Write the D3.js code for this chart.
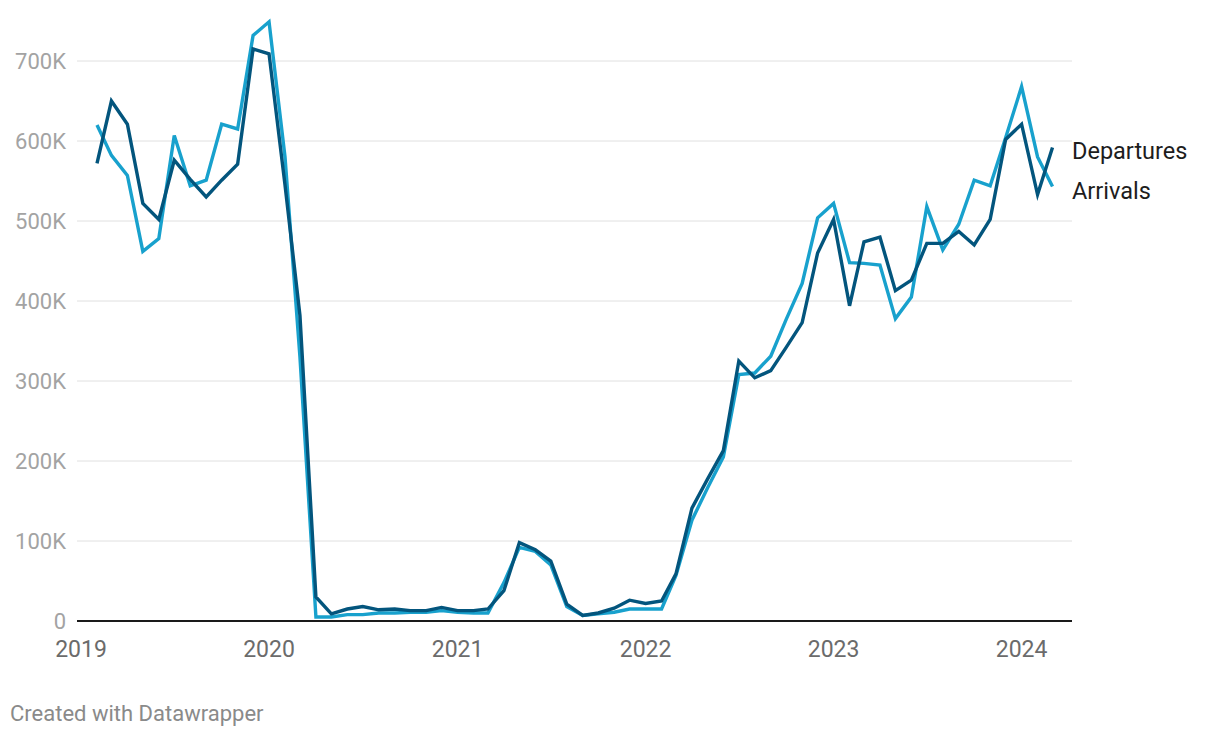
<!DOCTYPE html>
<html>
<head>
<meta charset="utf-8">
<script src="https://cdn.jsdelivr.net/npm/d3@7"></script>
<style>
  html, body { margin: 0; padding: 0; background: #fff; }
  svg { display: block; font-family: Roboto, "Noto Sans", sans-serif; }
</style>
</head>
<body>
<svg id="chart" width="1220" height="738"></svg>
<script>
const months = [
  "2019-02","2019-03","2019-04","2019-05","2019-06","2019-07","2019-08","2019-09","2019-10","2019-11","2019-12",
  "2020-01","2020-02","2020-03","2020-04","2020-05","2020-06","2020-07","2020-08","2020-09","2020-10","2020-11","2020-12",
  "2021-01","2021-02","2021-03","2021-04","2021-05","2021-06","2021-07","2021-08","2021-09","2021-10","2021-11","2021-12",
  "2022-01","2022-02","2022-03","2022-04","2022-05","2022-06","2022-07","2022-08","2022-09","2022-10","2022-11","2022-12",
  "2023-01","2023-02","2023-03","2023-04","2023-05","2023-06","2023-07","2023-08","2023-09","2023-10","2023-11","2023-12",
  "2024-01","2024-02","2024-03"
];
// values in thousands
const departures = [
  572,650,621,522,502,576,552,530,551,571,715,
  709,545,382,30,9,15,18,14,15,13,13,17,
  13,13,15,38,98,89,75,21,7,10,16,26,
  22,25,59,141,177,213,325,304,313,342,373,460,
  502,394,474,480,413,426,472,472,487,470,502,602,
  621,533,592
];
const arrivals = [
  620,582,557,462,478,607,544,551,621,615,732,
  749,580,330,5,5,8,8,10,10,11,11,13,
  11,10,10,48,92,87,70,18,7,9,11,15,
  15,15,57,126,166,205,308,310,331,377,422,504,
  522,448,447,445,378,405,518,464,496,551,544,604,
  668,580,543
];
const yTicks = [0,100,200,300,400,500,600,700];
const yTickLabels = ["0","100K","200K","300K","400K","500K","600K","700K"];
const xTickYears = ["2019","2020","2021","2022","2023","2024"];
const seriesNames = ["Arrivals","Departures"];
const seriesColors = ["#18a1cd","#03557d"];

const parse = d3.timeParse("%Y-%m");
const dates = months.map(parse);

const svg = d3.select("#chart");
const x = d3.scaleTime().domain([dates[0], dates[dates.length-1]]).range([97, 1052.5]);
const y = d3.scaleLinear().domain([0, 700]).range([621, 61]);
const gridX0 = 77, gridX1 = 1072;

// gridlines
svg.append("g").selectAll("line").data(yTicks.filter(d => d > 0)).join("line")
  .attr("x1", gridX0).attr("x2", gridX1)
  .attr("y1", d => y(d)).attr("y2", d => y(d))
  .attr("stroke", "#e0e0e0").attr("stroke-width", 1);

// y labels
svg.append("g").selectAll("text").data(yTicks).join("text")
  .attr("x", 66).attr("y", d => y(d))
  .attr("text-anchor", "end").attr("dominant-baseline", "central")
  .attr("fill", "#a3a3a3").attr("font-size", 22)
  .text((d, i) => yTickLabels[i]);

// x labels
const yearParse = d3.timeParse("%Y");
svg.append("g").selectAll("text").data(xTickYears).join("text")
  .attr("x", d => x(yearParse(d))).attr("y", 657)
  .attr("text-anchor", "middle")
  .attr("fill", "#6b6b6b").attr("font-size", 23)
  .text(d => d);

// lines
const series = [arrivals, departures];
const line = d3.line().x((d, i) => x(dates[i])).y(d => y(d));
series.forEach((s, k) => {
  svg.append("path").datum(s)
    .attr("d", line)
    .attr("fill", "none")
    .attr("stroke", seriesColors[k])
    .attr("stroke-width", 3.4)
    .attr("stroke-linejoin", "miter")
    .attr("stroke-linecap", "butt");
});

// baseline
svg.append("line").attr("x1", gridX0).attr("x2", gridX1)
  .attr("y1", y(0)).attr("y2", y(0))
  .attr("stroke", "#1a1a1a").attr("stroke-width", 2);

// series labels
const lastIdx = months.length - 1;
svg.append("text").attr("x", 1072).attr("y", y(departures[lastIdx]) + 12)
  .attr("fill", "#1d1d1d").attr("font-size", 23.5).text(seriesNames[1]);
svg.append("text").attr("x", 1072).attr("y", y(arrivals[lastIdx]) + 12)
  .attr("fill", "#1d1d1d").attr("font-size", 23.5).text(seriesNames[0]);

// footer
svg.append("text").attr("x", 10).attr("y", 721)
  .attr("fill", "#8a8a8a").attr("font-size", 22).text("Created with Datawrapper");
</script>
</body>
</html>
